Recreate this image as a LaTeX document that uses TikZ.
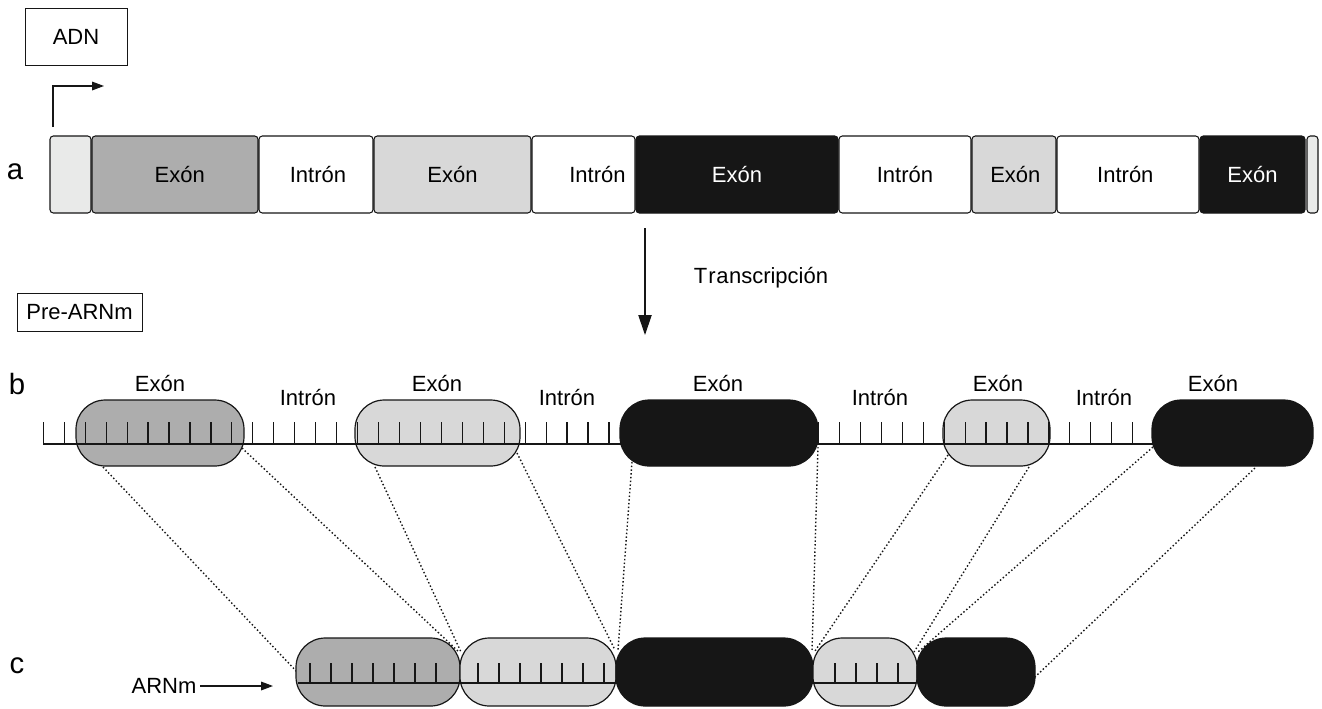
\documentclass[tikz,border=0pt]{standalone}
\usepackage{fontspec}
\setmainfont{Liberation Sans}
\usetikzlibrary{arrows.meta,fit}
\definecolor{dgray}{HTML}{ADADAD}
\definecolor{lgray}{HTML}{D8D8D8}
\definecolor{nblack}{HTML}{161616}
\definecolor{egray}{HTML}{E9EAE9}
\pgfdeclarelayer{background}
\pgfsetlayers{background,main}
\begin{document}
\begin{tikzpicture}[x=0.75pt,y=-0.75pt,
  every node/.style={font=\fontsize{16.5}{19}\selectfont, inner sep=0pt},
  segbox/.style={draw=nblack, line width=0.8pt, rounded corners=2.5pt},
  capsule/.style={draw=nblack, line width=0.9pt, rounded corners=22pt},
  labelbox/.style={draw=nblack, line width=0.6pt},
  rowlab/.style={font=\fontsize{22}{26}\selectfont},
  tickline/.style={line width=0.9pt, nblack},
  strand/.style={line width=0.9pt, nblack},
  dotjoin/.style={dash pattern=on 1.1pt off 1.7pt, line width=1.05pt, nblack},
  arr/.style={line width=0.9pt, nblack, -{Triangle[length=9pt,width=6.5pt]}},
]
\useasboundingbox (0,0) rectangle (1322,708);

% ---------- labels ----------
\node[labelbox, minimum width=76.5pt, minimum height=42.75pt] (adn) at (76,36.5) {ADN};
\node[labelbox, minimum width=93.75pt, minimum height=28.5pt] (pre) at (79.5,312) {Pre-ARNm};
\node[rowlab] (la) at (15,172) {a};
\node[rowlab] (lb) at (17,384) {b};
\node[rowlab] (lc) at (17,666) {c};

% ---------- row a ----------
\node[segbox, fill=egray, fit={(50,136)(91,213)}] (s0) {};
\node[segbox, fill=dgray, fit={(92,136)(258,213)}, label={[xshift=3.5pt]center:Exón}] (s1) {};
\node[segbox, fill=white, fit={(259,136)(373,213)}, label={[xshift=1.5pt]center:Intrón}] (s2) {};
\node[segbox, fill=lgray, fit={(374,136)(531,213)}, label={center:Exón}] (s3) {};
\node[segbox, fill=white, fit={(532,136)(635,213)}, label={[xshift=10.5pt]center:Intrón}] (s4) {};
\node[segbox, fill=nblack, fit={(636,136)(838,213)}, label={[text=white]center:Exón}] (s5) {};
\node[segbox, fill=white, fit={(839,136)(971,213)}, label={center:Intrón}] (s6) {};
\node[segbox, fill=lgray, fit={(972,136)(1056,213)}, label={[xshift=1pt]center:Exón}] (s7) {};
\node[segbox, fill=white, fit={(1057,136)(1199,213)}, label={[xshift=-2pt]center:Intrón}] (s8) {};
\node[segbox, fill=nblack, fit={(1200,136)(1305,213)}, label={[text=white]center:Exón}] (s9) {};
\node[segbox, fill=egray, fit={(1307,136)(1318,213)}] (s10) {};

% promoter arrow
\coordinate (pstart) at (53,127);
\coordinate (pend) at (104,86);
\draw[arr] (pstart) |- (pend);

% transcription arrow
\coordinate (tstart) at (645,228);
\coordinate (tend) at (645,335);
\draw[arr, -{Triangle[length=15pt,width=10pt]}] (tstart) -- (tend);
\node (trans) at (761,278) {T\kern0.8pt r\kern0.5pt a\kern0.3pt nscripción};

% ---------- row b ----------
\node[capsule, fill=dgray, fit={(76,400)(244,466)}] (b1) {};
\node[capsule, fill=lgray, fit={(355,400)(520,466)}] (b2) {};
\node[capsule, fill=nblack, fit={(620,400)(818,466)}] (b3) {};
\node[capsule, fill=lgray, fit={(943,400)(1050,466)}] (b4) {};
\node[capsule, fill=nblack, fit={(1152,400)(1313,466)}] (b5) {};
\coordinate (bl) at (43,444);
\coordinate (br) at (1300,444);
\draw[strand] (bl) -- (br);
\foreach \k in {0,...,52} \draw[tickline] ({43.3+20.95*\k},422) -- ++(0,22);

\node (eb1) at (160,383) {Exón};
\node (ib1) at (308,397) {Intrón};
\node (eb2) at (437,383) {Exón};
\node (ib2) at (567,397) {Intrón};
\node (eb3) at (718,383) {Exón};
\node (ib3) at (880,397) {Intrón};
\node (eb4) at (998,383) {Exón};
\node (ib4) at (1104,397) {Intrón};
\node (eb5) at (1213,383) {Exón};

% ---------- row c ----------
\node[capsule, fill=dgray, fit={(296,638)(460,706)}] (c1) {};
\node[capsule, fill=lgray, fit={(460,638)(616,706)}] (c2) {};
\node[capsule, fill=nblack, fit={(616,638)(813,706)}] (c3) {};
\node[capsule, fill=lgray, fit={(813,638)(917,706)}] (c4) {};
\node[capsule, fill=nblack, fit={(917,638)(1035,706)}] (c5) {};
\coordinate (cl) at (298,683);
\coordinate (cr) at (916,683);
\draw[strand] (cl) -- (cr);
\foreach \x in {310,331,352,373,394,415,436,478,499,520,541,562,583,604,835,856,877,898}
  \draw[tickline] (\x,663) -- ++(0,20);

\node (arnm) at (164,686) {ARNm};
\coordinate (mstart) at (200,686);
\coordinate (mend) at (273,686);
\draw[arr] (mstart) -- (mend);

% ---------- dotted joins ----------
\coordinate (ja1) at (103,467);  \coordinate (jb1) at (298,673);
\coordinate (ja2) at (242,448);  \coordinate (jb2) at (459,652);
\coordinate (ja3) at (375,467);  \coordinate (jb3) at (461,652);
\coordinate (ja4) at (517,453);  \coordinate (jb4) at (615,650);
\coordinate (ja5) at (632,462);  \coordinate (jb5) at (618,650);
\coordinate (ja6) at (818,447);  \coordinate (jb6) at (812,651);
\coordinate (ja7) at (948,455);  \coordinate (jb7) at (815,651);
\coordinate (ja8) at (1029,467); \coordinate (jb8) at (914,652);
\coordinate (ja9) at (1153,447); \coordinate (jb9) at (918,652);
\coordinate (ja10) at (1255,468); \coordinate (jb10) at (1035,677);
\begin{pgfonlayer}{background}
\foreach \j in {1,...,10} \draw[dotjoin] (ja\j) -- (jb\j);
\end{pgfonlayer}
\end{tikzpicture}
\end{document}
